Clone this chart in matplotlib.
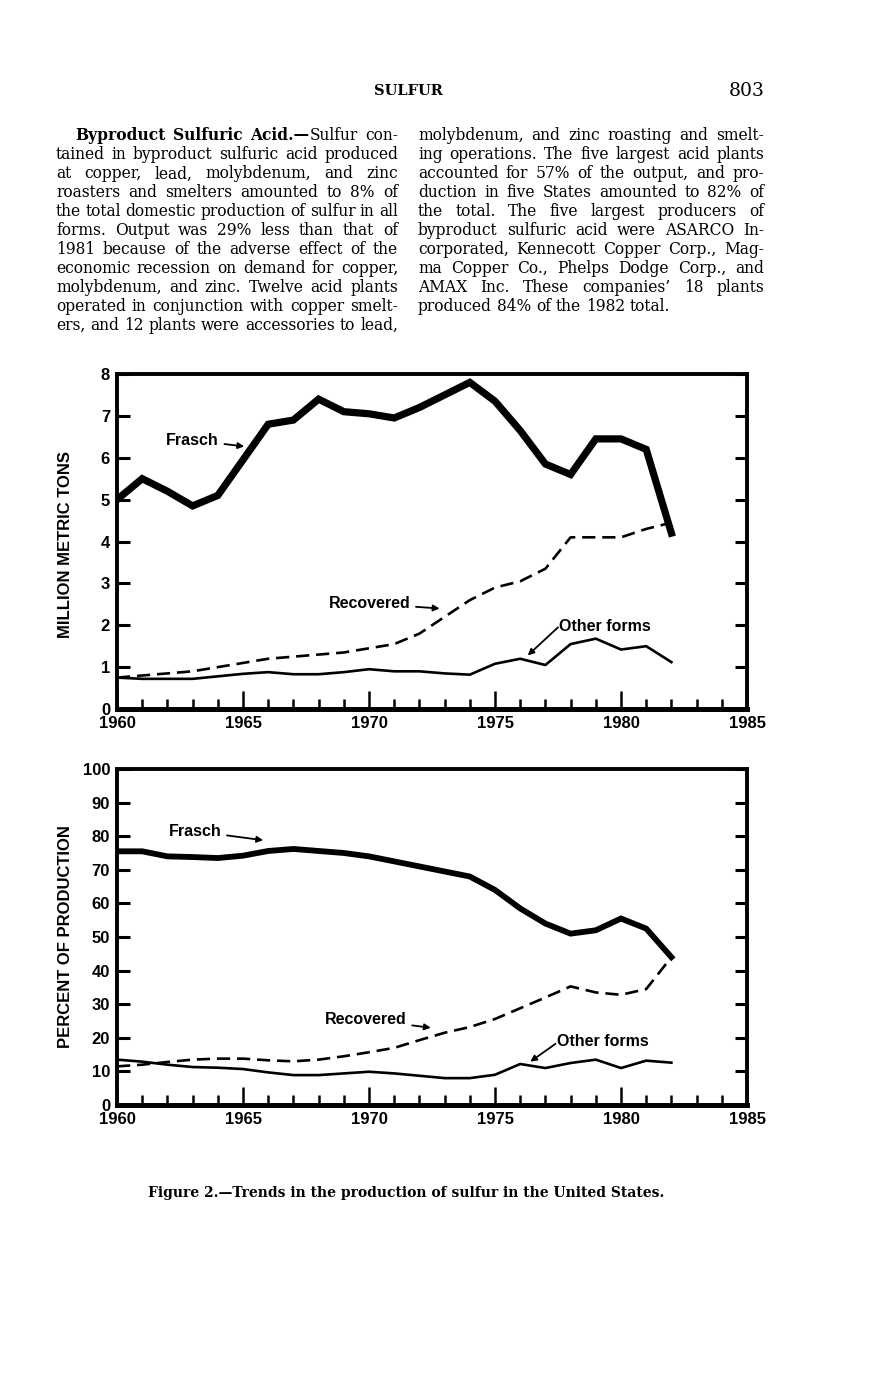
import numpy as np
import matplotlib
matplotlib.use("Agg")
import matplotlib.pyplot as plt
import matplotlib.ticker as mticker

# ---------------- data ----------------
years = list(range(1960, 1983))

frasch_mt = [5.0, 5.5, 5.2, 4.85, 5.1, 5.95, 6.8, 6.9, 7.4, 7.1, 7.05, 6.95,
             7.2, 7.5, 7.8, 7.35, 6.65, 5.85, 5.6, 6.45, 6.45, 6.2, 4.2]
recovered_mt = [0.75, 0.8, 0.85, 0.9, 1.0, 1.1, 1.2, 1.25, 1.3, 1.35, 1.45, 1.55,
                1.8, 2.2, 2.6, 2.9, 3.05, 3.35, 4.1, 4.1, 4.1, 4.3, 4.45]
other_mt = [0.75, 0.72, 0.72, 0.72, 0.78, 0.84, 0.88, 0.83, 0.83, 0.88, 0.95, 0.9,
            0.9, 0.85, 0.82, 1.08, 1.2, 1.05, 1.55, 1.68, 1.42, 1.5, 1.12]

frasch_pct = [75.5, 75.5, 74, 73.8, 73.5, 74.2, 75.6, 76.2, 75.6, 75, 74, 72.5,
              71, 69.5, 68, 64, 58.5, 54, 51, 52, 55.5, 52.5, 44]
recovered_pct = [11.5, 12, 12.8, 13.5, 13.8, 13.8, 13.3, 13, 13.5, 14.5, 15.7, 17,
                 19.3, 21.5, 23.2, 25.6, 28.8, 32, 35.3, 33.5, 32.8, 34.5, 44]
other_pct = [13.5, 12.9, 12, 11.3, 11.1, 10.7, 9.7, 8.9, 8.9, 9.4, 9.9, 9.4,
             8.7, 8, 8, 9, 12.2, 11, 12.5, 13.5, 11, 13.2, 12.6]

x_ticks = [1960, 1965, 1970, 1975, 1980, 1985]

left_col = [
    "Byproduct Sulfuric Acid.\u2014Sulfur con-",
    "tained in byproduct sulfuric acid produced",
    "at copper, lead, molybdenum, and zinc",
    "roasters and smelters amounted to 8% of",
    "the total domestic production of sulfur in all",
    "forms. Output was 29% less than that of",
    "1981 because of the adverse effect of the",
    "economic recession on demand for copper,",
    "molybdenum, and zinc. Twelve acid plants",
    "operated in conjunction with copper smelt-",
    "ers, and 12 plants were accessories to lead,",
]
right_col = [
    "molybdenum, and zinc roasting and smelt-",
    "ing operations. The five largest acid plants",
    "accounted for 57% of the output, and pro-",
    "duction in five States amounted to 82% of",
    "the total. The five largest producers of",
    "byproduct sulfuric acid were ASARCO In-",
    "corporated, Kennecott Copper Corp., Mag-",
    "ma Copper Co., Phelps Dodge Corp., and",
    "AMAX Inc. These companies\u2019 18 plants",
    "produced 84% of the 1982 total.",
]

W, H = 873, 1380
fig = plt.figure(figsize=(W / 100, H / 100), dpi=100)
renderer = fig.canvas.get_renderer()

def fx(px):
    return px / W

def fy(py):
    return 1 - py / H

SERIF = "DejaVu Serif"
SANS = "Liberation Sans"

# ---------------- page header ----------------
fig.text(fx(408), fy(91), "SULFUR", family=SERIF, weight="bold", fontsize=10.5,
         ha="center", va="center")
fig.text(fx(765), fy(91), "803", family=SERIF, fontsize=13.5, ha="right", va="center")

# ---------------- justified body text ----------------
def split_words(line, first=False):
    if first:
        return [[("Byproduct", "bold")], [("Sulfuric", "bold")],
                [("Acid.\u2014", "bold"), ("Sulfur", "normal")], [("con-", "normal")]]
    return [[(w, "normal")] for w in line.split()]

def word_width(word, fs):
    total = 0
    for seg, wt in word:
        t = fig.text(0, 0, seg, family=SERIF, weight=wt, fontsize=fs)
        total += t.get_window_extent(renderer).width
        t.remove()
    return total

def space_width(fs):
    return word_width([("a a", "normal")], fs) - 2 * word_width([("a", "normal")], fs)

def draw_line(x0, x1, y, words, fs, justify=True):
    widths = [word_width(w, fs) for w in words]
    if justify and len(words) > 1:
        gap = (x1 - x0 - sum(widths)) / (len(words) - 1)
    else:
        gap = space_width(fs)
    x = x0
    for w, ww in zip(words, widths):
        xs = x
        for seg, wt in w:
            t = fig.text(fx(xs), fy(y), seg, family=SERIF, weight=wt, fontsize=fs,
                         ha="left", va="baseline")
            xs += t.get_window_extent(renderer).width
        x += ww + gap

line0 = 140.5
step = 18.95
colL = (56, 398)
colR = (418, 764)
indent = 19

# fit the font so the tightest justified line still fits its column
jobs = []
for i, line in enumerate(left_col):
    x0 = colL[0] + (indent if i == 0 else 0)
    jobs.append((x0, colL[1], line0 + i * step, split_words(line, i == 0), True))
for i, line in enumerate(right_col):
    jobs.append((colR[0], colR[1], line0 + i * step, split_words(line),
                 i < len(right_col) - 1))
ref_fs = 10.0
sp = space_width(ref_fs)
ratios = []
for x0, x1, y, words, just in jobs:
    nat = sum(word_width(w, ref_fs) for w in words) + (len(words) - 1) * 0.75 * sp
    ratios.append((x1 - x0) / nat)
body_fs = ref_fs * min(ratios)

for x0, x1, y, words, just in jobs:
    draw_line(x0, x1, y, words, body_fs, justify=just)

# ---------------- charts ----------------
def make_axes(top_px, bottom_px):
    return fig.add_axes([fx(117), fy(bottom_px), (747 - 117) / W, (bottom_px - top_px) / H])

def style_axes(ax, ymax, ystep):
    ax.set_xlim(1960, 1985)
    ax.set_ylim(0, ymax)
    ax.set_yticks(np.arange(0, ymax + ystep / 2, ystep))
    ax.set_xticks(x_ticks)
    ax.xaxis.set_minor_locator(mticker.MultipleLocator(1))
    ax.tick_params(axis="x", which="major", direction="in", length=13, width=1.8,
                   pad=5, labelsize=12)
    ax.tick_params(axis="x", which="minor", direction="in", length=7, width=1.8)
    ax.tick_params(axis="y", which="major", direction="in", length=9, width=2.2,
                   right=True, pad=5, labelsize=12)
    for lab in ax.get_xticklabels() + ax.get_yticklabels():
        lab.set_fontweight("bold")
        lab.set_family(SANS)
    for s in ax.spines.values():
        s.set_linewidth(2.8)
    ax.spines["bottom"].set_linewidth(3.6)

def label(ax, text, xy_text, xy_tip):
    ax.annotate(text, xy=xy_tip, xytext=xy_text, family=SANS, weight="bold",
                fontsize=11.5, ha="left", va="center",
                arrowprops=dict(arrowstyle="-|>", color="black", lw=1.3,
                                mutation_scale=9, shrinkA=2, shrinkB=0))

# chart 1: million metric tons
ax1 = make_axes(374, 709)
ax1.plot(years, frasch_mt, color="black", lw=5.2, solid_joinstyle="miter")
ax1.plot(years, recovered_mt, color="black", lw=1.9, dashes=(5, 2.6))
ax1.plot(years, other_mt, color="black", lw=1.9)
style_axes(ax1, 8, 1)
label(ax1, "Frasch", (1961.95, 6.42), (1965.05, 6.27))
label(ax1, "Recovered", (1968.4, 2.52), (1972.8, 2.4))
ax1.text(1977.55, 1.98, "Other forms", family=SANS, weight="bold", fontsize=11.5,
         ha="left", va="center")
ax1.annotate("", xy=(1976.3, 1.28), xytext=(1977.5, 1.95),
             arrowprops=dict(arrowstyle="-|>", color="black", lw=1.3,
                             mutation_scale=9, shrinkA=0, shrinkB=0))

fig.text(fx(65), fy(545), "MILLION METRIC TONS", family=SANS, weight="bold",
         fontsize=12, rotation=90, ha="center", va="center")

# chart 2: percent of production
ax2 = make_axes(769, 1105)
ax2.plot(years, frasch_pct, color="black", lw=4.2, solid_joinstyle="miter")
ax2.plot(years, recovered_pct, color="black", lw=1.9, dashes=(5, 2.6))
ax2.plot(years, other_pct, color="black", lw=1.9)
style_axes(ax2, 100, 10)
label(ax2, "Frasch", (1962.05, 81.5), (1965.8, 78.8))
label(ax2, "Recovered", (1968.25, 25.4), (1972.45, 23.0))
ax2.text(1977.45, 19.0, "Other forms", family=SANS, weight="bold", fontsize=11.5,
         ha="left", va="center")
ax2.annotate("", xy=(1976.4, 12.9), xytext=(1977.4, 18.2),
             arrowprops=dict(arrowstyle="-|>", color="black", lw=1.3,
                             mutation_scale=9, shrinkA=0, shrinkB=0))

fig.text(fx(65), fy(937), "PERCENT OF PRODUCTION", family=SANS, weight="bold",
         fontsize=12, rotation=90, ha="center", va="center")

# ---------------- caption ----------------
fig.text(fx(406), fy(1193),
         "Figure 2.\u2014Trends in the production of sulfur in the United States.",
         family=SERIF, weight="bold", fontsize=10, ha="center", va="center")

fig.savefig("out.png", dpi=100)
